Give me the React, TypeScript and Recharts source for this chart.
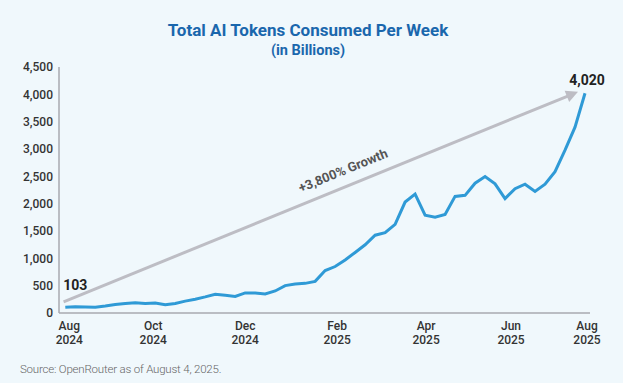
import React from "react";
import { LineChart, Line, XAxis, YAxis, ReferenceLine, LabelList } from "recharts";

// Weekly total AI tokens consumed (billions), Aug 2024 -> Aug 2025
const tokens = [
  103, 114, 108, 105, 127, 154, 172, 186, 172, 181, 150, 175, 217, 253, 295, 344,
  325, 302, 367, 367, 349, 403, 501, 530, 542, 579, 777, 850, 971, 1108, 1248, 1423,
  1470, 1622, 2030, 2175, 1790, 1754, 1803, 2133, 2152, 2374, 2495, 2363, 2092, 2273,
  2356, 2224, 2356, 2585, 2978, 3399, 4020,
];

// x tick positions (in weeks from start) and their labels
const monthTicks = [0.4, 8.8, 18, 27.2, 36.1, 44.6, 52.2];
const monthLabels = ["Aug", "Oct", "Dec", "Feb", "Apr", "Jun", "Aug"];
const yearLabels = ["2024", "2024", "2024", "2025", "2025", "2025", "2025"];

const yTicks = [0, 500, 1000, 1500, 2000, 2500, 3000, 3500, 4000, 4500];

// growth arrow annotation: from (week, value) to (week, value)
const arrowStart = { x: -0.17, y: 204 };
const arrowEnd = { x: 51.3, y: 4045 };
const growthText = "+3,800% Growth";

const data = tokens.map((v, i) => ({ week: i, value: v }));

const FONT = "Roboto, 'Liberation Sans', sans-serif";

const XTick = (props: any) => {
  const { x, y, payload } = props;
  const idx = monthTicks.indexOf(payload.value);
  return (
    <text x={x} y={y} textAnchor="middle" fontFamily={FONT} fontSize={12} fontWeight={500} fill="#333">
      <tspan x={x} dy={9}>{monthLabels[idx]}</tspan>
      <tspan x={x} dy={14}>{yearLabels[idx]}</tspan>
    </text>
  );
};

const ArrowShape = (props: any) => {
  const { x1, y1, x2, y2 } = props;
  if ([x1, y1, x2, y2].some((v: any) => typeof v !== "number" || isNaN(v))) return null;
  const dx = x2 - x1;
  const dy = y2 - y1;
  const len = Math.sqrt(dx * dx + dy * dy);
  const ux = dx / len;
  const uy = dy / len;
  const headLen = 12;
  const headHalf = 6;
  const bx = x2 - ux * headLen;
  const by = y2 - uy * headLen;
  const nx = -uy;
  const ny = ux;
  const angle = (Math.atan2(dy, dx) * 180) / Math.PI;
  const f = 0.555;
  const off = 16;
  const tx = x1 + dx * f + uy * off;
  const ty = y1 + dy * f - ux * off;
  return (
    <g>
      <line x1={x1} y1={y1} x2={bx + ux * 1} y2={by + uy * 1} stroke="#bdbdc4" strokeWidth={3} />
      <polygon
        points={`${x2},${y2} ${bx + nx * headHalf},${by + ny * headHalf} ${bx - nx * headHalf},${by - ny * headHalf}`}
        fill="#bdbdc4"
      />
      <text
        x={tx}
        y={ty}
        textAnchor="middle"
        dominantBaseline="central"
        transform={`rotate(${angle} ${tx} ${ty})`}
        fontFamily={FONT}
        fontSize={13}
        fontWeight={700}
        fill="#555"
      >
        {growthText}
      </text>
    </g>
  );
};

const EndLabel = (props: any) => {
  const { x, y, index, value } = props;
  if (index === 0) {
    return (
      <text x={x - 2} y={y - 22} textAnchor="start" dominantBaseline="central" fontFamily={FONT} fontSize={14} fontWeight={700} fill="#222">
        {value.toLocaleString("en-US")}
      </text>
    );
  }
  if (index === tokens.length - 1) {
    return (
      <text x={x + 2} y={y - 13} textAnchor="middle" dominantBaseline="central" fontFamily={FONT} fontSize={14} fontWeight={700} fill="#222">
        {value.toLocaleString("en-US")}
      </text>
    );
  }
  return null;
};

export default function App() {
  return (
    <div
      style={{
        position: "absolute",
        left: 0,
        top: 0,
        width: 623,
        height: 383,
        background: "#f0f8fc",
        fontFamily: FONT,
        overflow: "hidden",
      }}
    >
      <div
        style={{
          position: "absolute",
          top: 20,
          left: 0,
          width: 616,
          textAlign: "center",
          color: "#1a67ad",
          fontWeight: 700,
          fontSize: 17,
          lineHeight: "20px",
        }}
      >
        Total AI Tokens Consumed Per Week
        <div style={{ fontSize: 14.5, lineHeight: "20px", marginTop: 1 }}>(in Billions)</div>
      </div>
      <div style={{ position: "absolute", top: 0, left: 0 }}>
        <LineChart
          width={623}
          height={383}
          data={data}
          margin={{ top: 67, right: 33, bottom: 40, left: 0 }}
        >
          <XAxis
            dataKey="week"
            type="number"
            domain={[-0.63, 52.5]}
            ticks={monthTicks}
            tick={<XTick />}
            tickLine={false}
            axisLine={{ stroke: "#a8aab0", strokeWidth: 1.5 }}
            interval={0}
            height={30}
            allowDataOverflow
          />
          <YAxis
            type="number"
            domain={[0, 4500]}
            ticks={yTicks}
            width={59}
            tickLine={false}
            tickSize={6}
            tickMargin={0}
            axisLine={{ stroke: "#a8aab0", strokeWidth: 1.5 }}
            tickFormatter={(v: number) => v.toLocaleString("en-US")}
            tick={{ fontFamily: FONT, fontSize: 12, fontWeight: 500, fill: "#333" }}
            interval={0}
          />
          <ReferenceLine
            segment={[arrowStart, arrowEnd]}
            stroke="#bdbdc4"
            ifOverflow="visible"
            shape={<ArrowShape />}
          />
          <Line
            type="linear"
            dataKey="value"
            stroke="#2f9ad6"
            strokeWidth={3}
            dot={false}
            isAnimationActive={false}
          >
            <LabelList dataKey="value" content={<EndLabel />} />
          </Line>
        </LineChart>
      </div>
      <div
        style={{
          position: "absolute",
          top: 362,
          left: 20,
          fontSize: 11.5,
          color: "#666",
          fontWeight: 300,
          letterSpacing: -0.2,
        }}
      >
        Source: OpenRouter as of August 4, 2025.
      </div>
    </div>
  );
}
